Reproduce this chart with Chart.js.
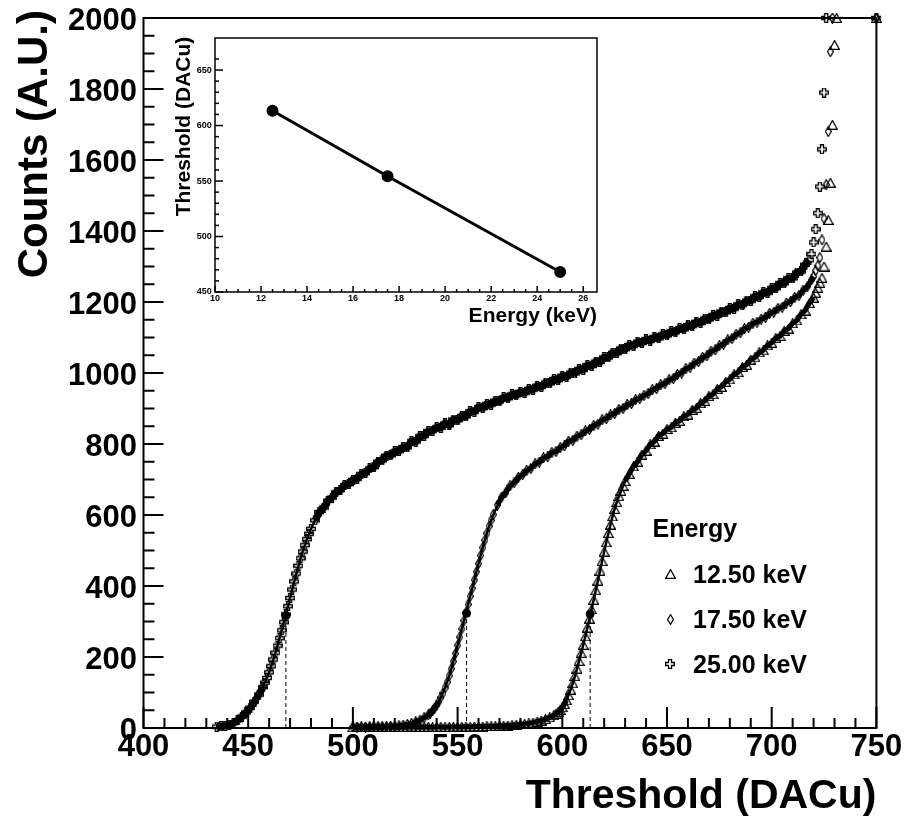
<!DOCTYPE html>
<html lang="en">
<head>
<meta charset="UTF-8">
<title>S-curves vs threshold</title>
<script src="https://cdn.jsdelivr.net/npm/chart.js"></script>
<style>
  body { margin: 0; background: #fff; }
  #wrap { position: relative; width: 908px; height: 825px; }
  #main { position: absolute; left: 0; top: 0; }
  #inset { position: absolute; left: 150px; top: 30px; }
</style>
</head>
<body>
<div id="wrap">
  <canvas id="main" width="908" height="825"></canvas>
  <canvas id="inset" width="460" height="300"></canvas>
</div>
<script>
// ---- data ----
const legendLabels = ['12.50 keV', '17.50 keV', '25.00 keV'];
const energies = [12.5, 17.5, 25.0];
const thresholds = [613.3, 554.3, 468.0];
const halfCounts = [321, 323, 316];

// 12.50 keV scan (triangles)
const dac125 = [500,502,504,506,508,510,512,514,516,518,520,522,524,526,528,530,532,534,536,538,540,542,544,546,548,550,552,554,556,558,560,562,564,566,568,570,572,574,576,578,580,582,584,586,588,590,592,594,596,
  597,598,599,600,601,602,603,604,605,606,607,608,609,610,611,612,613,614,615,616,617,618,619,620,621,622,623,624,625,626,627,628,629,630,
  632,634,636,638,640,642,644,646,648,650,652,654,656,658,660,662,664,666,668,670,672,674,676,678,680,682,684,686,688,690,692,694,696,698,700,702,704,706,708,710,712,714,716,718,720,
  721,722,723,724,725,726,727,728,729,730,731,750];
const cnt125 = [2,3,2,3,2,3,2,3,2,3,3,2,3,2,3,3,2,3,3,2,3,3,2,3,3,3,3,4,3,4,4,4,5,5,5,6,6,7,8,9,10,11,13,15,18,21,25,30,36,
  40,45,51,58,67,78,92,108,126,146,167,189,211,234,258,283,308,334,361,388,415,443,470,497,523,549,573,596,617,636,653,668,682,695,
  716,737,750,770,781,799,807,823,829,842,847,860,865,878,883,896,901,915,921,935,940,955,961,975,982,996,1002,1017,1023,1038,1044,1058,1064,1078,1085,1099,1104,1119,1125,1140,1148,1165,1176,1197,1212,
  1226,1240,1254,1268,1300,1356,1431,1536,1699,1924,2000,2000];

// 17.50 keV scan (diamonds)
const dac175 = [500,502,504,506,508,510,512,514,516,518,520,522,524,526,528,530,532,534,536,
  537,538,539,540,541,542,543,544,545,546,547,548,549,550,551,552,553,554,555,556,557,558,559,560,561,562,563,564,565,566,567,
  569,571,573,575,577,579,581,583,585,587,589,591,593,595,597,599,601,603,605,607,609,611,613,615,617,619,621,623,625,627,629,631,633,635,637,639,641,643,645,647,649,651,653,655,657,659,661,663,665,667,669,671,673,675,677,679,681,683,685,687,689,691,693,695,697,699,701,703,705,707,709,711,713,715,717,719,
  720,721,722,723,724,725,726,727,728,729,750];
const cnt175 = [3,2,3,2,3,3,4,3,4,5,5,6,8,10,13,17,22,29,37,
  42,48,56,64,74,86,98,113,129,147,167,188,210,233,256,279,302,325,348,371,394,417,440,463,486,508,529,549,568,585,601,
  628,650,663,682,691,706,713,726,731,744,749,761,764,776,779,790,795,808,810,822,826,837,841,852,856,868,871,882,886,897,900,911,914,925,928,937,942,953,956,967,970,981,984,996,1000,1012,1016,1028,1032,1044,1048,1061,1065,1077,1081,1093,1097,1109,1113,1125,1129,1140,1143,1152,1157,1168,1171,1182,1185,1197,1201,1213,1218,1233,1243,1262,
  1272,1288,1302,1325,1375,1435,1530,1680,1905,2000,2000];

// 25.00 keV scan (open crosses)
const dac250 = [435,437,439,441,443,445,447,449,451,453,455,457,
  458,459,460,461,462,463,464,465,466,467,468,469,470,471,472,473,474,475,476,477,478,479,480,
  482,484,486,488,490,492,494,496,498,500,
  502,504,506,508,510,512,514,516,518,520,
  522,524,526,528,530,532,534,536,538,540,
  542,544,546,548,550,552,554,556,558,560,
  562,564,566,568,570,572,574,576,578,580,
  582,584,586,588,590,592,594,596,598,600,
  602,604,606,608,610,612,614,616,618,620,
  622,624,626,628,630,632,634,636,638,640,
  642,644,646,648,650,652,654,656,658,660,
  662,664,666,668,670,672,674,676,678,680,
  682,684,686,688,690,692,694,696,698,700,
  702,704,706,708,710,712,714,716,718,
  719,720,721,722,723,724,725,726,750];
const cnt250 = [4,5,6,9,14,22,32,44,57,74,94,115,
  128,141,157,174,193,212,232,253,275,298,320,343,366,390,413,435,457,478,497,515,532,547,561,
  585,608,621,640,649,664,670,684,687,699,
  702,715,718,731,735,750,754,767,768,779,
  780,791,791,808,807,822,823,836,837,847,
  846,858,853,869,867,879,878,892,891,904,
  901,913,911,922,920,931,929,940,937,947,
  944,955,953,964,961,973,971,983,980,992,
  989,1001,999,1011,1009,1022,1020,1032,1031,1044,
  1044,1057,1056,1069,1067,1079,1077,1088,1085,1095,
  1091,1101,1098,1109,1106,1117,1115,1126,1123,1135,
  1132,1144,1141,1153,1151,1163,1161,1173,1171,1183,
  1181,1193,1191,1204,1203,1216,1214,1227,1226,1239,
  1239,1253,1253,1267,1267,1283,1286,1305,1318,
  1335,1368,1405,1450,1525,1630,1790,2000,2000];

// fitted S-curves
const fitDac125 = [585,589,593,597,601,605,609,613,617,621,625,629,633,637,641,645];
const fitCnt125 = [13,19,27,40,67,126,211,308,415,523,617,682,726,760,789,815];
const fitDac175 = [526,530,534,538,542,546,550,554,558,562,566,570,574,578,582,586];
const fitCnt175 = [9,16,28,48,86,147,233,325,417,508,585,637,673,698,719,737];
const fitDac250 = [440,444,448,452,456,460,464,468,472,476,480,484,488,492,496,500,506];
const fitCnt250 = [7,17,38,66,104,157,232,320,413,497,561,606,638,662,681,696,716];

Chart.defaults.font.family = '"Liberation Sans", Arial, sans-serif';
Chart.defaults.color = '#000';

const pts = (xs, ys) => xs.map((x, i) => ({ x: x, y: ys[i] }));

// open markers like the original plot
function makeMarker(kind) {
  const c = document.createElement('canvas');
  const g = c.getContext('2d');
  if (kind === 'tri') {
    c.width = 11; c.height = 10;
    g.lineWidth = 1.2; g.strokeStyle = '#000';
    g.beginPath(); g.moveTo(5.5, 0.6); g.lineTo(10.4, 9.4); g.lineTo(0.6, 9.4); g.closePath();
  } else if (kind === 'dia') {
    c.width = 7; c.height = 11;
    g.lineWidth = 1.2; g.strokeStyle = '#000';
    g.beginPath(); g.moveTo(3.5, 0.6); g.lineTo(6.4, 5.5); g.lineTo(3.5, 10.4); g.lineTo(0.6, 5.5); g.closePath();
  } else {
    c.width = 10; c.height = 10;
    g.lineWidth = 1.3; g.strokeStyle = '#000';
    const p = [[3.5,0.7],[6.5,0.7],[6.5,3.5],[9.3,3.5],[9.3,6.5],[6.5,6.5],[6.5,9.3],[3.5,9.3],[3.5,6.5],[0.7,6.5],[0.7,3.5],[3.5,3.5]];
    g.beginPath(); p.forEach((q, i) => i ? g.lineTo(q[0], q[1]) : g.moveTo(q[0], q[1])); g.closePath();
  }
  g.stroke();
  return c;
}
const markers = [makeMarker('tri'), makeMarker('dia'), makeMarker('cross')];
const bandWidths = [5, 5, 7];

// the dense scan points merge into a dark band where the curve is flat
const bandColor = ctx => {
  const a = ctx.p0.parsed, b = ctx.p1.parsed;
  const slope = Math.abs((b.y - a.y) / (b.x - a.x));
  return (slope < 12 && b.x <= 720) ? '#000' : 'rgba(0,0,0,0)';
};

// inward ticks + frame, ROOT style
function frameTicks(cfg) {
  const onStep = (v, s) => Math.abs(v / s - Math.round(v / s)) < 1e-6;
  return {
    id: 'frameTicks',
    afterDraw(chart) {
      const { ctx, chartArea: a, scales } = chart;
      ctx.save();
      ctx.strokeStyle = '#000';
      ctx.lineWidth = cfg.tickWidth;
      scales.x.ticks.forEach(t => {
        if (!onStep(t.value, cfg.x.minor)) return;
        const len = onStep(t.value, cfg.x.major) ? cfg.x.majorLen : cfg.x.minorLen;
        const px = scales.x.getPixelForValue(t.value);
        ctx.beginPath(); ctx.moveTo(px, a.bottom); ctx.lineTo(px, a.bottom - len); ctx.stroke();
      });
      scales.y.ticks.forEach(t => {
        if (!onStep(t.value, cfg.y.minor)) return;
        const len = onStep(t.value, cfg.y.major) ? cfg.y.majorLen : cfg.y.minorLen;
        const py = scales.y.getPixelForValue(t.value);
        ctx.beginPath(); ctx.moveTo(a.left, py); ctx.lineTo(a.left + len, py); ctx.stroke();
      });
      ctx.lineWidth = cfg.frameWidth;
      ctx.strokeRect(a.left, a.top, a.right - a.left, a.bottom - a.top);
      ctx.restore();
    }
  };
}

// axis titles and the legend block
const mainText = {
  id: 'mainText',
  afterDraw(chart) {
    const { ctx, chartArea: a } = chart;
    ctx.save();
    ctx.fillStyle = '#000';
    ctx.textBaseline = 'alphabetic';
    ctx.textAlign = 'right';
    ctx.font = 'bold 41px "Liberation Sans"';
    ctx.fillText('Threshold (DACu)', a.right, a.bottom + 80);
    ctx.save();
    ctx.translate(47, a.top - 8);
    ctx.rotate(-Math.PI / 2);
    ctx.font = 'bold 42px "Liberation Sans"';
    ctx.fillText('Counts (A.U.)', 0, 0);
    ctx.restore();

    ctx.textAlign = 'left';
    ctx.font = 'bold 25px "Liberation Sans"';
    ctx.fillText('Energy', 652.5, 536.5);
    legendLabels.forEach((lab, i) => {
      const yb = 583.3 + i * 45;
      ctx.fillText(lab, 693, yb);
      const m = markers[i];
      ctx.drawImage(m, Math.round(670 - m.width / 2), Math.round(yb - 9 - m.height / 2));
    });
    ctx.restore();
  }
};

const scanSets = [[dac125, cnt125], [dac175, cnt175], [dac250, cnt250]].map((d, i) => ({
  label: legendLabels[i],
  data: pts(d[0], d[1]),
  showLine: true,
  borderWidth: bandWidths[i],
  borderColor: '#000',
  segment: { borderColor: bandColor },
  pointStyle: markers[i],
  pointRadius: 5,
  clip: false,
  order: 3
}));
const fitSets = [[fitDac125, fitCnt125], [fitDac175, fitCnt175], [fitDac250, fitCnt250]].map(d => ({
  data: pts(d[0], d[1]),
  showLine: true,
  borderColor: '#000',
  borderWidth: 2.5,
  pointRadius: 0,
  cubicInterpolationMode: 'monotone',
  order: 1
}));
const dropSets = thresholds.map((t, i) => ({
  data: [{ x: t, y: 0 }, { x: t, y: halfCounts[i] }],
  showLine: true,
  borderColor: '#000',
  borderWidth: 1,
  borderDash: [4, 3],
  pointRadius: 0,
  order: 2
}));
const thrSet = {
  data: pts(thresholds, halfCounts),
  showLine: false,
  pointStyle: 'circle',
  pointRadius: 4,
  backgroundColor: '#000',
  borderColor: '#000',
  order: 0
};

new Chart(document.getElementById('main'), {
  type: 'scatter',
  data: { datasets: [thrSet].concat(fitSets, dropSets, scanSets) },
  options: {
    responsive: false,
    animation: false,
    events: [],
    layout: { padding: { left: 0, right: 31.6, top: 18, bottom: 0 } },
    plugins: { legend: { display: false }, tooltip: { enabled: false } },
    scales: {
      x: {
        type: 'linear', min: 400, max: 750,
        grid: { display: false, drawTicks: false, tickLength: 0 }, border: { display: false },
        ticks: {
          stepSize: 10, autoSkip: false, maxRotation: 0, minRotation: 0, padding: 1,
          font: { size: 31, weight: 'bold' },
          callback: v => (v % 50 === 0 ? v : '')
        },
        afterFit: s => { s.height = 97; s.paddingLeft = 0; s.paddingRight = 0; }
      },
      y: {
        type: 'linear', min: 0, max: 2000,
        grid: { display: false, drawTicks: false, tickLength: 0 }, border: { display: false },
        ticks: {
          stepSize: 50, autoSkip: false, padding: 6.5, labelOffset: 3,
          font: { size: 31, weight: 'bold' },
          callback: v => (v % 200 === 0 ? v : '')
        },
        afterFit: s => { s.width = 143.5; s.paddingTop = 0; s.paddingBottom = 0; }
      }
    }
  },
  plugins: [frameTicks({
    tickWidth: 2, frameWidth: 2,
    x: { minor: 10, major: 50, minorLen: 10, majorLen: 21 },
    y: { minor: 50, major: 200, minorLen: 11, majorLen: 20 }
  }), mainText]
});

// inset: threshold vs energy
const insetText = {
  id: 'insetText',
  afterDraw(chart) {
    const { ctx, chartArea: a } = chart;
    ctx.save();
    ctx.fillStyle = '#000';
    ctx.textAlign = 'right';
    ctx.textBaseline = 'alphabetic';
    ctx.font = 'bold 21px "Liberation Sans"';
    ctx.fillText('Energy (keV)', a.right, a.bottom + 29.7);
    ctx.translate(40, a.top - 1.3);
    ctx.rotate(-Math.PI / 2);
    ctx.fillText('Threshold (DACu)', 0, 0);
    ctx.restore();
  }
};

new Chart(document.getElementById('inset'), {
  type: 'scatter',
  data: {
    datasets: [{
      data: pts(energies, thresholds),
      showLine: true,
      borderColor: '#000',
      borderWidth: 3,
      pointStyle: 'circle',
      pointRadius: 4.5,
      backgroundColor: '#000'
    }]
  },
  options: {
    responsive: false,
    animation: false,
    events: [],
    layout: { padding: { left: 0, right: 13, top: 8, bottom: 0 } },
    plugins: { legend: { display: false }, tooltip: { enabled: false } },
    scales: {
      x: {
        type: 'linear', min: 10, max: 26.6,
        grid: { display: false, drawTicks: false, tickLength: 0 }, border: { display: false },
        ticks: {
          stepSize: 0.5, autoSkip: false, maxRotation: 0, minRotation: 0, padding: 1.6,
          font: { size: 9, weight: 'bold' },
          callback: v => (v % 2 === 0 ? v : '')
        },
        afterFit: s => { s.height = 38; s.paddingLeft = 0; s.paddingRight = 0; }
      },
      y: {
        type: 'linear', min: 450, max: 678.9,
        grid: { display: false, drawTicks: false, tickLength: 0 }, border: { display: false },
        ticks: {
          stepSize: 10, autoSkip: false, padding: 3.3,
          font: { size: 9, weight: 'bold' },
          callback: v => (v % 50 === 0 ? v : '')
        },
        afterFit: s => { s.width = 65; s.paddingTop = 0; s.paddingBottom = 0; }
      }
    }
  },
  plugins: [frameTicks({
    tickWidth: 1.5, frameWidth: 1.5,
    x: { minor: 0.5, major: 2, minorLen: 3, majorLen: 6 },
    y: { minor: 10, major: 50, minorLen: 4, majorLen: 8 }
  }), insetText]
});
</script>
</body>
</html>
